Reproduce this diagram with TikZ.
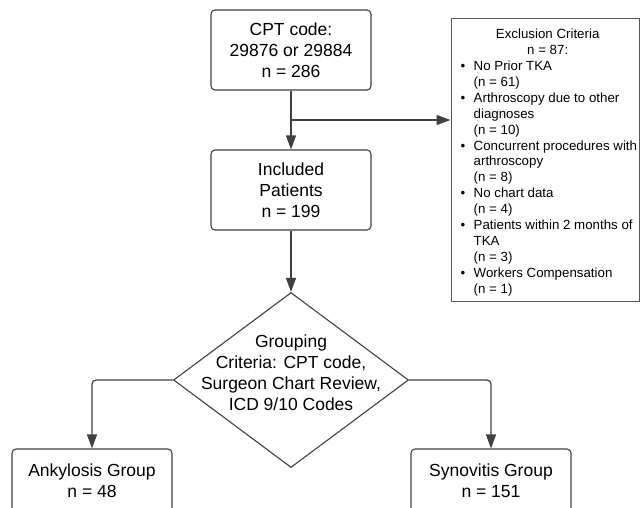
\documentclass[tikz,border=0pt]{standalone}
\usepackage{fontspec}
\setmainfont{Liberation Sans}
\usetikzlibrary{shapes.geometric,arrows.meta,calc}
\newcommand{\exhead}[1]{\makebox[174pt]{#1}}
\newcommand{\exbul}{\makebox[13pt][l]{•}}
\newcommand{\exind}{\hspace*{13pt}}

\begin{document}
\begin{tikzpicture}[x=1pt,y=-1pt,
  box/.style={draw=black!75,line width=1.1pt,rounded corners=4pt,minimum width=160pt,align=center,font=\fontsize{17.5}{21}\selectfont},
  arr/.style={draw=black!75,line width=1.2pt,-{Triangle[length=14pt,width=10pt]}}]
\useasboundingbox (0,0) rectangle (644,507);
\clip (0,0) rectangle (644,507);
\node[box,minimum height=80pt] (cpt) at (291,50) {CPT code:\\29876 or 29884\\n = 286};
\node[box,minimum height=80pt] (incl) at (291,190) {Included\\Patients\\n = 199};
\node[draw=black!75,line width=1.1pt,diamond,minimum width=235pt,minimum height=175pt,inner sep=0pt] (grp) at (291,380) {};
\node[align=center,font=\fontsize{17.5}{21}\selectfont] (grptxt) at ([yshift=7pt]grp.center) {Grouping\\Criteria: CPT code,\\Surgeon Chart Review,\\ICD 9/10 Codes};
\node[box,minimum height=64pt] (ank) at (92,481) {Ankylosis Group\\n = 48};
\node[box,minimum height=64pt] (syn) at (491,481) {Synovitis Group\\n = 151};
\node[draw=black!65,line width=1pt,minimum width=188pt,minimum height=283pt] (excl) at (545,159.5) {};
\node[anchor=west,align=left,inner sep=0pt,font=\fontsize{13.3}{15.9}\selectfont] (excltxt) at ([xshift=10pt,yshift=-3pt]excl.west) {%
\exhead{Exclusion Criteria}\\\exhead{n = 87:}\\
\exbul No Prior TKA\\\exind(n = 61)\\
\exbul Arthroscopy due to other\\\exind diagnoses\\\exind(n = 10)\\
\exbul Concurrent procedures with\\\exind arthroscopy\\\exind(n = 8)\\
\exbul No chart data\\\exind(n = 4)\\
\exbul Patients within 2 months of\\\exind TKA\\\exind(n = 3)\\
\exbul Workers Compensation\\\exind(n = 1)};
\coordinate (split) at ($(cpt.south)!0.5!(incl.north)$);
\draw[arr] (cpt) -- (incl);
\draw[arr] (split) -- (split -| excl.west);
\draw[arr] (incl) -- (grp);
\draw[arr,rounded corners=4pt] (grp.west) -| (ank.north);
\draw[arr,rounded corners=4pt] (grp.east) -| (syn.north);
\end{tikzpicture}
\end{document}
